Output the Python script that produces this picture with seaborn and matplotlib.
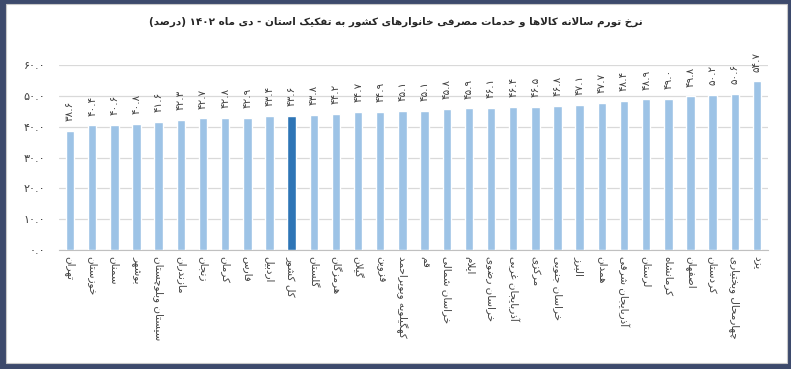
import matplotlib
matplotlib.use("Agg")
import matplotlib.pyplot as plt
from matplotlib.patches import Rectangle
import pandas as pd
import seaborn as sns

provinces = ["تهران", "خوزستان", "سمنان", "بوشهر", "سیستان وبلوچستان", "مازندران",
             "زنجان", "کرمان", "فارس", "اردبیل", "کل کشور", "گلستان", "هرمزگان",
             "گیلان", "قزوین", "کهگیلویه وبویراحمد", "قم", "خراسان شمالی", "ایلام",
             "خراسان رضوی", "آذربایجان غربی", "مرکزی", "خراسان جنوبی", "البرز",
             "همدان", "آذربایجان شرقی", "لرستان", "کرمانشاه", "اصفهان", "کردستان",
             "چهارمحال وبختیاری", "یزد"]
inflation = [38.6, 40.4, 40.6, 40.8, 41.6, 42.3, 42.7, 42.8, 42.9, 43.4, 43.6, 43.8,
             44.2, 44.7, 44.9, 45.1, 45.1, 45.8, 45.9, 46.1, 46.4, 46.5, 46.8, 47.1,
             47.7, 48.4, 48.9, 49.0, 49.8, 50.2, 50.6, 54.7]
yticks = [0, 10, 20, 30, 40, 50, 60]
title = "نرخ تورم سالانه کالاها و خدمات مصرفی خانوارهای کشور به تفکیک استان - دی ماه ۱۴۰۲ (درصد)"
national = "کل کشور"

# --- tiny arabic/persian shaper (matplotlib has no shaping or bidi) ---
# letter: (isolated, final, initial, medial); None for right-joining only
FORMS = {
    "ا": (0xFE8D, 0xFE8E, None, None), "آ": (0xFE81, 0xFE82, None, None),
    "ب": (0xFE8F, 0xFE90, 0xFE91, 0xFE92), "پ": (0xFB56, 0xFB57, 0xFB58, 0xFB59),
    "ت": (0xFE95, 0xFE96, 0xFE97, 0xFE98), "ث": (0xFE99, 0xFE9A, 0xFE9B, 0xFE9C),
    "ج": (0xFE9D, 0xFE9E, 0xFE9F, 0xFEA0), "چ": (0xFB7A, 0xFB7B, 0xFB7C, 0xFB7D),
    "ح": (0xFEA1, 0xFEA2, 0xFEA3, 0xFEA4), "خ": (0xFEA5, 0xFEA6, 0xFEA7, 0xFEA8),
    "د": (0xFEA9, 0xFEAA, None, None), "ذ": (0xFEAB, 0xFEAC, None, None),
    "ر": (0xFEAD, 0xFEAE, None, None), "ز": (0xFEAF, 0xFEB0, None, None),
    "ژ": (0xFB8A, 0xFB8B, None, None),
    "س": (0xFEB1, 0xFEB2, 0xFEB3, 0xFEB4), "ش": (0xFEB5, 0xFEB6, 0xFEB7, 0xFEB8),
    "ص": (0xFEB9, 0xFEBA, 0xFEBB, 0xFEBC), "ض": (0xFEBD, 0xFEBE, 0xFEBF, 0xFEC0),
    "ط": (0xFEC1, 0xFEC2, 0xFEC3, 0xFEC4), "ظ": (0xFEC5, 0xFEC6, 0xFEC7, 0xFEC8),
    "ع": (0xFEC9, 0xFECA, 0xFECB, 0xFECC), "غ": (0xFECD, 0xFECE, 0xFECF, 0xFED0),
    "ف": (0xFED1, 0xFED2, 0xFED3, 0xFED4), "ق": (0xFED5, 0xFED6, 0xFED7, 0xFED8),
    "ک": (0xFB8E, 0xFB8F, 0xFB90, 0xFB91), "گ": (0xFB92, 0xFB93, 0xFB94, 0xFB95),
    "ل": (0xFEDD, 0xFEDE, 0xFEDF, 0xFEE0), "م": (0xFEE1, 0xFEE2, 0xFEE3, 0xFEE4),
    "ن": (0xFEE5, 0xFEE6, 0xFEE7, 0xFEE8), "و": (0xFEED, 0xFEEE, None, None),
    "ه": (0xFEE9, 0xFEEA, 0xFEEB, 0xFEEC), "ی": (0xFBFC, 0xFBFD, 0xFBFE, 0xFBFF),
}


def shape(text):
    # lam-alef ligature first
    chars = []
    i = 0
    while i < len(text):
        if text[i] == "ل" and i + 1 < len(text) and text[i + 1] == "ا":
            chars.append("LA")
            i += 2
        else:
            chars.append(text[i])
            i += 1

    def joins_left(c):  # can connect to the following letter
        return c in FORMS and FORMS[c][2] is not None

    def is_letter(c):
        return c in FORMS or c == "LA"

    out = []
    for k, c in enumerate(chars):
        prev = chars[k - 1] if k > 0 else None
        nxt = chars[k + 1] if k + 1 < len(chars) else None
        from_prev = prev is not None and joins_left(prev)
        if c == "LA":
            out.append(chr(0xFEFC if from_prev else 0xFEFB))
            continue
        if c not in FORMS:
            out.append(c)
            continue
        iso, fin, ini, med = FORMS[c]
        to_next = ini is not None and nxt is not None and is_letter(nxt)
        if from_prev and to_next:
            out.append(chr(med))
        elif from_prev:
            out.append(chr(fin))
        elif to_next:
            out.append(chr(ini))
        else:
            out.append(chr(iso))
    s = "".join(out)[::-1]
    # put digit runs back in LTR order and mirror brackets
    res, run = [], ""
    for ch in s:
        if ch in "۰۱۲۳۴۵۶۷۸۹0123456789.":
            run += ch
        else:
            if run:
                res.append(run[::-1])
                run = ""
            res.append({"(": ")", ")": "("}.get(ch, ch))
    if run:
        res.append(run[::-1])
    return "".join(res)


def fa(num):
    return f"{num:.1f}".translate(str.maketrans("0123456789", "۰۱۲۳۴۵۶۷۸۹"))


sns.set_style("white")
plt.rcParams["font.family"] = ["DejaVu Sans"]

df = pd.DataFrame({"province": provinces, "value": inflation})
palette = {p: ("#2E75B6" if p == national else "#9DC3E6") for p in provinces}

fig = plt.figure(figsize=(7.91, 3.69), dpi=100, facecolor="#3d4a6c")
fig.patches.append(Rectangle((6 / 791, 6 / 369), 781 / 791, 359 / 369,
                             transform=fig.transFigure, facecolor="white",
                             edgecolor="#c8c8c8", lw=0.8, zorder=-5))
ax = fig.add_axes([59 / 791, 119 / 369, 709 / 791, 185 / 369], zorder=2)
ax.set_facecolor("none")

sns.barplot(data=df, x="province", y="value", hue="province", palette=palette,
            width=0.38, saturation=1, legend=False, ax=ax, zorder=3)

ax.set_ylim(0, 60)
ax.set_xlim(-0.5, len(provinces) - 0.5)
ax.set_yticks(yticks)
ax.set_yticklabels([fa(t) for t in yticks], fontsize=8, color="#404040")
ax.set_xticks(range(len(provinces)))
ax.set_xticklabels([shape(p) for p in provinces], rotation=270, fontsize=7.5,
                   color="#404040", va="top", ha="center")
ax.tick_params(axis="both", length=0, pad=10)
ax.tick_params(axis="x", pad=4)
ax.set_xlabel("")
ax.set_ylabel("")
ax.grid(axis="y", color="#d9d9d9", lw=0.9, zorder=0)
ax.set_axisbelow(True)
for s in ["top", "right", "left"]:
    ax.spines[s].set_visible(False)
ax.spines["bottom"].set_color("#c0c0c0")

for i, v in enumerate(inflation):
    ax.annotate(fa(v), (i, v), xytext=(0, 7), textcoords="offset points",
                rotation=90, ha="center", va="bottom", fontsize=7.5,
                color="#404040", annotation_clip=False)

fig.text(0.5, 1 - 22 / 369, shape(title), ha="center", va="center",
         fontsize=7.5, fontweight="bold", color="#262626")

fig.savefig("out.png", dpi=100, facecolor=fig.get_facecolor())
